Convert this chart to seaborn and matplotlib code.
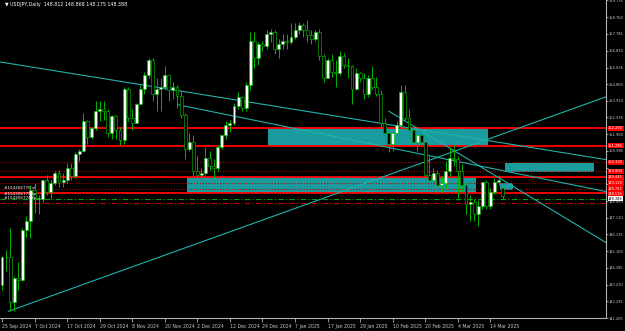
import matplotlib
matplotlib.use("Agg")
import matplotlib.pyplot as plt
import matplotlib.transforms as mtransforms
import numpy as np
import pandas as pd
import seaborn as sns

# ---------------- data ----------------
holidays = [pd.Timestamp("2024-12-25"), pd.Timestamp("2025-01-01")]
dates = [d for d in pd.bdate_range("2024-09-25", "2025-03-19") if d not in holidays]

opens = [143.2, 144.8, 144.8, 142.2, 143.6, 143.5, 146.4, 146.9, 148.7, 148.2,
         148.2, 149.3, 148.6, 149.1, 149.7, 149.2, 149.3, 150.0, 149.5, 150.8,
         151.0, 152.7, 151.8, 152.3, 153.3, 153.4, 153.3, 152.0, 153.0, 152.2,
         151.6, 154.6, 152.9, 152.6, 153.7, 154.6, 155.4, 156.3, 154.3, 154.6,
         154.7, 155.4, 154.5, 154.7, 154.2, 153.1, 151.1, 151.5, 149.8, 149.6,
         149.7, 150.6, 150.1, 150.0, 151.2, 151.9, 152.5, 152.6, 153.6, 154.1,
         153.5, 154.8, 157.4, 156.4, 157.2, 157.1, 157.8, 157.9, 156.9, 157.2,
         157.4, 157.3, 157.6, 158.0, 158.3, 158.0, 157.7, 157.5, 157.9, 156.5,
         155.2, 156.3, 155.6, 155.5, 156.5, 156.0, 155.9, 154.6, 155.5, 155.2,
         154.3, 155.2, 154.7, 154.3, 152.6, 152.0, 151.4, 152.0, 152.5, 154.4,
         152.9, 152.2, 151.5, 151.9, 151.5, 149.6, 149.3, 149.7, 149.0, 149.1,
         149.8, 150.6, 150.5, 149.8, 149.0, 147.9, 148.0, 147.3, 147.8, 149.2,
         147.8, 148.6, 149.2, 148.812]
highs = [144.9, 145.2, 146.5, 143.7, 144.5, 146.5, 147.2, 149.0, 149.1, 148.4,
         149.3, 149.6, 149.3, 149.8, 149.9, 149.7, 150.3, 150.3, 150.9, 151.1,
         153.2, 152.8, 152.4, 153.9, 153.9, 153.9, 153.4, 153.1, 153.1, 152.4,
         154.7, 154.7, 153.4, 153.8, 154.8, 155.6, 156.4, 156.4, 155.2, 155.2,
         155.9, 155.4, 155.0, 154.8, 154.5, 153.2, 152.0, 151.9, 150.7, 150.0,
         151.2, 151.0, 150.5, 151.3, 151.9, 152.7, 152.8, 153.8, 154.4, 154.2,
         155.0, 157.9, 157.9, 157.3, 157.4, 158.0, 158.1, 158.0, 157.5, 157.8,
         157.8, 158.4, 158.4, 158.5, 158.4, 158.6, 158.0, 158.0, 158.1, 156.6,
         156.4, 156.6, 156.3, 156.8, 156.7, 156.4, 156.0, 155.8, 155.6, 155.5,
         155.4, 155.9, 155.3, 154.5, 152.9, 152.2, 152.2, 152.7, 154.8, 154.8,
         153.4, 152.4, 152.0, 152.2, 151.6, 150.7, 150.0, 149.9, 149.5, 150.4,
         151.2, 151.3, 150.7, 150.2, 149.2, 148.4, 148.2, 148.1, 149.2, 149.3,
         148.8, 149.4, 149.6, 148.868]
lows = [142.9, 144.0, 141.7, 141.7, 142.9, 143.4, 146.0, 145.9, 147.4, 147.3,
        148.0, 148.4, 148.2, 149.0, 148.9, 148.9, 149.1, 149.3, 149.4, 150.4,
        150.9, 151.4, 151.7, 152.2, 152.7, 152.8, 151.8, 151.7, 151.7, 151.3,
        151.4, 152.7, 152.2, 152.6, 153.7, 154.3, 155.2, 153.9, 153.3, 153.3,
        154.5, 153.9, 154.0, 153.5, 152.9, 150.5, 151.0, 149.5, 149.4, 149.2,
        149.6, 149.9, 149.4, 149.8, 151.1, 151.7, 152.1, 152.5, 153.4, 153.3,
        153.3, 154.5, 155.8, 156.0, 156.8, 156.9, 157.3, 156.6, 156.4, 156.9,
        156.9, 157.2, 157.5, 157.8, 157.6, 157.3, 157.2, 157.4, 156.3, 155.0,
        155.2, 155.3, 154.7, 155.4, 155.8, 155.2, 153.7, 154.5, 155.0, 154.0,
        154.1, 154.6, 154.2, 152.3, 151.6, 150.9, 151.0, 151.8, 152.1, 152.8,
        151.9, 151.4, 151.0, 151.4, 149.3, 149.2, 148.9, 148.6, 148.6, 148.8,
        149.5, 150.1, 148.1, 148.6, 147.3, 146.9, 146.9, 146.6, 147.6, 147.6,
        147.6, 148.5, 149.0, 148.175]
closes = [144.8, 144.8, 142.2, 143.6, 143.5, 146.4, 146.9, 148.7, 148.2, 148.2,
          149.3, 148.6, 149.1, 149.7, 149.2, 149.3, 150.0, 149.5, 150.8, 151.0,
          152.7, 151.8, 152.3, 153.3, 153.4, 153.3, 152.0, 153.0, 152.2, 151.6,
          154.6, 152.9, 152.6, 153.7, 154.6, 155.4, 156.3, 154.3, 154.6, 154.7,
          155.4, 154.5, 154.7, 154.2, 153.1, 151.1, 151.5, 149.8, 149.6, 149.7,
          150.6, 150.1, 150.0, 151.2, 151.9, 152.5, 152.6, 153.6, 154.1, 153.5,
          154.8, 157.4, 156.4, 157.2, 157.1, 157.8, 157.9, 156.9, 157.2, 157.4,
          157.3, 157.6, 158.0, 158.3, 158.0, 157.7, 157.5, 157.9, 156.5, 155.2,
          156.3, 155.6, 155.5, 156.5, 156.0, 155.9, 154.6, 155.5, 155.2, 154.3,
          155.2, 154.7, 154.3, 152.6, 152.0, 151.4, 152.0, 152.5, 154.4, 152.9,
          152.2, 151.5, 151.9, 151.5, 149.6, 149.3, 149.7, 149.0, 149.1, 149.8,
          150.6, 150.5, 149.8, 149.0, 147.9, 148.0, 147.3, 147.8, 149.2, 147.8,
          148.6, 149.2, 149.3, 148.388]

# right price scale (labels hidden under level tags are left blank)
axis_prices = [159.735, 158.760, 157.785, 156.810, 155.835, 154.860, 153.910,
               152.935, 151.960, 150.985, 150.010, 149.035, 148.060, 147.110,
               146.135, 145.160, 144.185, 143.210, 142.235, 141.265]
axis_hidden = [150.010, 149.035]
axis_labels = ["" if p in axis_hidden else f"{p:.3f}" for p in axis_prices]

# time scale labels
date_labels = ["25 Sep 2024", "7 Oct 2024", "17 Oct 2024", "29 Oct 2024", "8 Nov 2024",
               "20 Nov 2024", "2 Dec 2024", "12 Dec 2024", "24 Dec 2024", "7 Jan 2025",
               "17 Jan 2025", "29 Jan 2025", "10 Feb 2025", "20 Feb 2025", "4 Mar 2025",
               "14 Mar 2025"]

# horizontal levels
level_prices = [152.290, 151.285, 150.330, 149.800, 149.445, 149.120, 148.767, 148.535]
level_solid = [True, True, False, False, True, False, False, True]
dashdot_prices = [148.210, 147.980]
dashdot_colors = ["#00a000", "#c00000"]
current_price = 148.388

# trend lines (bar index, price)
trend_x0 = [-0.5, 1.5, 43.2, 95.0]
trend_p0 = [156.16, 141.65, 153.67, 153.30]
trend_x1 = [148.4, 148.4, 148.4, 148.4]
trend_p1 = [150.48, 154.13, 148.62, 145.65]

# rectangles (bar index range, price range)
zone_x0 = [65.4, 45.5, 123.6, 122.4]
zone_x1 = [119.4, 116.5, 145.5, 125.6]
zone_top = [152.290, 149.445, 150.300, 149.140]
zone_bot = [151.285, 148.535, 149.780, 148.730]

order_labels = ["#154306776 sl", "#154306775 tp", "#154306774 tp"]
order_prices = [148.80, 148.50, 148.22]

header = "\u25BC USDJPY,Daily  148.812 148.868 148.175 148.388"

# ---------------- figure ----------------
sns.set_theme(style="dark")
plt.rcParams["font.family"] = ["DejaVu Sans"]

W, H = 625, 331
fig = plt.figure(figsize=(W / 100, H / 100), dpi=100, facecolor="black")
ax = fig.add_axes([0, 13 / H, 606 / W, 318 / H])
ax.set_facecolor("black")

px_per_bar = 4.07
px_per_price = 17.23
ymin = 147.11 - 100 / px_per_price
ymax = 147.11 + 218 / px_per_price
ax.set_xlim(-2 / px_per_bar, 604 / px_per_bar)
ax.set_ylim(ymin, ymax)

n = len(closes)
idx = np.arange(n)
df = pd.DataFrame({"i": idx, "o": opens, "h": highs, "l": lows, "c": closes})

# zones
for x0, x1, t, b in zip(zone_x0, zone_x1, zone_top, zone_bot):
    ax.fill_between([x0, x1], [b, b], [t, t], color="#1a9c9e", lw=0, zorder=1)

# levels
for p, s in zip(level_prices, level_solid):
    if s:
        ax.axhline(p, color="#ff0000", lw=1.3, zorder=2)
    else:
        ax.axhline(p, color="#b40000", lw=0.8, ls=(0, (1, 1.6)), zorder=2)
for p, c in zip(dashdot_prices, dashdot_colors):
    ax.axhline(p, color=c, lw=0.8, ls=(0, (5, 2, 1, 2)), zorder=2)

# trend lines through seaborn
tl = pd.DataFrame({
    "x": trend_x0 + trend_x1,
    "p": trend_p0 + trend_p1,
    "line": list(range(len(trend_x0))) * 2,
})
sns.lineplot(data=tl, x="x", y="p", units="line", estimator=None, color="#20b2aa",
             lw=0.8, ax=ax, zorder=3, sort=False)

# candles
ax.vlines(df["i"], df["l"], df["h"], color="#00b400", lw=0.7, zorder=4)
up = df["c"] >= df["o"]
bottoms = np.minimum(df["o"], df["c"])
heights = np.maximum(np.abs(df["c"] - df["o"]), 0.03)
ax.bar(df["i"][up], heights[up], bottom=bottoms[up], width=0.72, color="white",
       edgecolor="#00b400", lw=0.45, zorder=5)
ax.bar(df["i"][~up], heights[~up], bottom=bottoms[~up], width=0.72, color="black",
       edgecolor="#00b400", lw=0.45, zorder=5)

# axes styling
for side in ["left", "top"]:
    ax.spines[side].set_visible(False)
for side in ["right", "bottom"]:
    ax.spines[side].set_visible(True)
    ax.spines[side].set_color("#b0b0b0")
    ax.spines[side].set_linewidth(0.8)
ax.grid(False)
ax.set_xlabel("")
ax.set_ylabel("")

fs_y = 2.6
fs_x = 3.3
ax.yaxis.tick_right()
ax.set_yticks(axis_prices)
ax.set_yticklabels(axis_labels)
ax.tick_params(axis="y", colors="#b0b0b0", labelcolor="#c8c8c8", labelsize=fs_y,
               length=1.5, width=0.6, pad=0.6, direction="out")

date_idx = [0] + [dates.index(pd.Timestamp(d)) for d in
                  ["2024-10-07", "2024-10-17", "2024-10-29", "2024-11-08", "2024-11-20",
                   "2024-12-02", "2024-12-12", "2024-12-24", "2025-01-07", "2025-01-17",
                   "2025-01-29", "2025-02-10", "2025-02-20", "2025-03-04", "2025-03-14"]]
ax.set_xticks(date_idx)
ax.set_xticklabels(date_labels)
for lbl in ax.get_xticklabels():
    lbl.set_ha("left")
ax.tick_params(axis="x", colors="#b0b0b0", labelcolor="#c8c8c8", labelsize=fs_x,
               length=3, width=0.6, pad=1.5, direction="out", bottom=True)

# right side price boxes (stacked so they do not collide)
blend = mtransforms.blended_transform_factory(ax.transAxes, ax.transData)
tags = [(p, f"{p:.3f}", "#ff0000", "white") for p in level_prices]
tags.append((current_price, f"{current_price:.3f}", "white", "black"))
tags.sort(key=lambda t: -t[0])
min_gap = 4.8 / px_per_price
placed = []
for p, txt, fc, tc in tags:
    y = p
    if placed and placed[-1] - y < min_gap:
        y = placed[-1] - min_gap
    placed.append(y)
    ax.text(1.0035, y, txt, transform=blend, color=tc, fontsize=fs_y, va="center",
            ha="left", clip_on=False, zorder=10,
            bbox=dict(boxstyle="square,pad=0.15", fc=fc, ec="none"))

# order labels on left
for t, p in zip(order_labels, order_prices):
    ax.text(0.006, p, t, transform=blend, color="white", fontsize=3.0,
            va="center", ha="left", zorder=9)

ax.text(0.008, 0.993, header, transform=ax.transAxes, color="white", fontsize=3.4,
        va="top", ha="left", zorder=10)

fig.savefig("out.png", dpi=100, facecolor="black")
